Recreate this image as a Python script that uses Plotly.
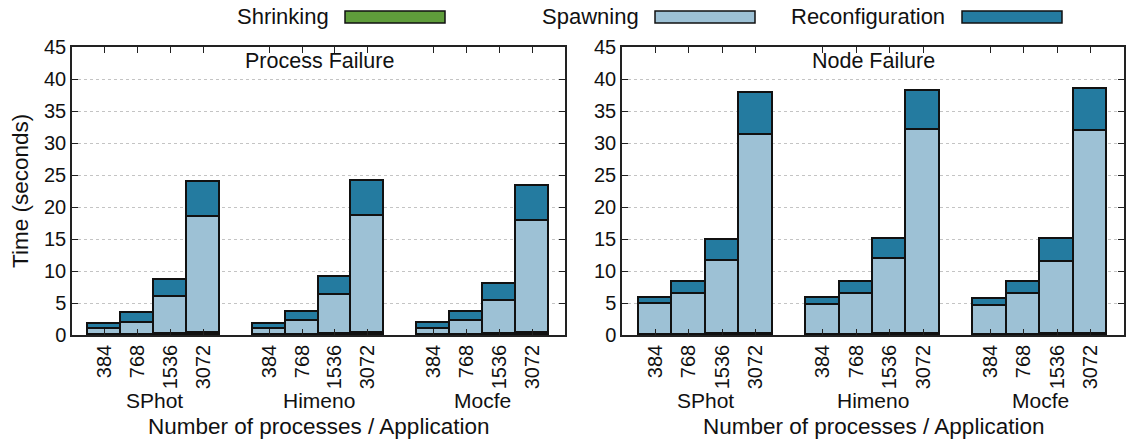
import plotly.graph_objects as go

apps = ["SPhot", "Himeno", "Mocfe"]
procs = ["384", "768", "1536", "3072"]

# Process Failure (seconds), order: SPhot x4, Himeno x4, Mocfe x4
pf_shrinking = [0.05, 0.05, 0.1, 0.25, 0.05, 0.05, 0.1, 0.3, 0.05, 0.05, 0.1, 0.3]
pf_spawning = [0.9, 1.85, 5.8, 18.15, 0.93, 2.1, 6.2, 18.35, 0.93, 2.15, 5.15, 17.5]
pf_reconf = [0.77, 1.48, 2.74, 5.45, 0.79, 1.45, 2.8, 5.45, 0.84, 1.45, 2.71, 5.5]

# Node Failure (seconds)
nf_shrinking = [0.05, 0.05, 0.1, 0.2, 0.05, 0.05, 0.1, 0.2, 0.05, 0.05, 0.1, 0.2]
nf_spawning = [4.75, 6.41, 11.4, 31.1, 4.69, 6.41, 11.78, 31.78, 4.53, 6.41, 11.36, 31.62]
nf_reconf = [1.03, 1.77, 3.4, 6.46, 1.09, 1.82, 3.12, 6.2, 1.1, 1.77, 3.49, 6.67]

series_names = ["Shrinking", "Spawning", "Reconfiguration"]
colors = ["#5f9d3b", "#9dc1d5", "#247ba0"]

W, H = 1127, 439
FONT = "Liberation Sans, Arial, sans-serif"

# x positions: each group has 4 bars and one empty slot
xpos = [g * 5 + i + 1 for g in range(len(apps)) for i in range(len(procs))]
xtext = [p for _ in apps for p in procs]

fig = go.Figure()

panels = [
    ("x", "y", [pf_shrinking, pf_spawning, pf_reconf]),
    ("x2", "y2", [nf_shrinking, nf_spawning, nf_reconf]),
]
for xa, ya, data in panels:
    for name, col, vals in zip(series_names, colors, data):
        fig.add_trace(go.Bar(
            x=xpos, y=vals, name=name, xaxis=xa, yaxis=ya, width=1,
            marker=dict(color=col, line=dict(color="#111111", width=1.7)),
            showlegend=False, hoverinfo="skip",
        ))

def px_x(p):
    return p / W

def px_y(p):
    return 1 - p / H

ydom = [px_y(335), px_y(47)]
axis_common = dict(
    showline=True, linecolor="#222222", linewidth=1.5, mirror="ticks",
    ticks="inside", ticklen=6, tickcolor="#222222",
    tickfont=dict(family=FONT, size=20, color="#111111"),
    zeroline=False, automargin=False,
)
xcommon = dict(axis_common, range=[0, 15], tickvals=xpos, ticktext=xtext,
               tickangle=-90, showgrid=False)
ycommon = dict(axis_common, range=[0, 45], dtick=5, showgrid=True,
               gridcolor="#c4c4c4", griddash="dot", gridwidth=1)

fig.update_layout(
    width=W, height=H, autosize=False,
    margin=dict(l=0, r=0, t=0, b=0, pad=0),
    paper_bgcolor="white", plot_bgcolor="white",
    barmode="stack", bargap=0,
    font=dict(family=FONT, size=22, color="#111111"),
    xaxis=dict(xcommon, domain=[px_x(72), px_x(565)], anchor="y"),
    yaxis=dict(ycommon, domain=ydom, anchor="x"),
    xaxis2=dict(xcommon, domain=[px_x(622), px_x(1124)], anchor="y2"),
    yaxis2=dict(ycommon, domain=ydom, anchor="x2"),
    showlegend=False,
)

def txt(text, x, y, xref="paper", xanchor="center", angle=0, size=22):
    return dict(text=text, x=x, y=y, xref=xref, yref="paper", xanchor=xanchor,
                yanchor="middle", textangle=angle, showarrow=False,
                font=dict(family=FONT, size=size, color="#111111"))

ann = []
# panel titles
ann.append(txt("Process Failure", px_x(319), px_y(61), size=21.5))
ann.append(txt("Node Failure", px_x(873), px_y(61), size=21.5))
# group labels and x titles
for xa in ["x", "x2"]:
    for g, a in enumerate(apps):
        ann.append(txt(a, g * 5 + 2.5, px_y(400), xref=xa, size=21))
    ann.append(txt("Number of processes / Application", 7.5, px_y(426), xref=xa, size=22.5))
# y title
ann.append(txt("Time (seconds)", px_x(20), px_y(191), angle=-90, size=22.5))

# manual legend (text then wide swatch)
legend_items = [("Shrinking", 331, 345), ("Spawning", 641, 655), ("Reconfiguration", 947, 962)]
shapes = []
for (name, text_right, box_left), col in zip(legend_items, colors):
    ann.append(txt(name, px_x(text_right), px_y(17), xanchor="right"))
    shapes.append(dict(type="rect", xref="paper", yref="paper",
                       x0=px_x(box_left), x1=px_x(box_left + 100),
                       y0=px_y(23), y1=px_y(11),
                       fillcolor=col, line=dict(color="#111111", width=1.5)))

fig.update_layout(annotations=ann, shapes=shapes)
fig.write_html(
    "out.html",
    config={"displayModeBar": False},
    post_script="document.body.style.margin='0';"
                "document.body.style.overflow='hidden';"
                "document.documentElement.style.overflow='hidden';",
)
